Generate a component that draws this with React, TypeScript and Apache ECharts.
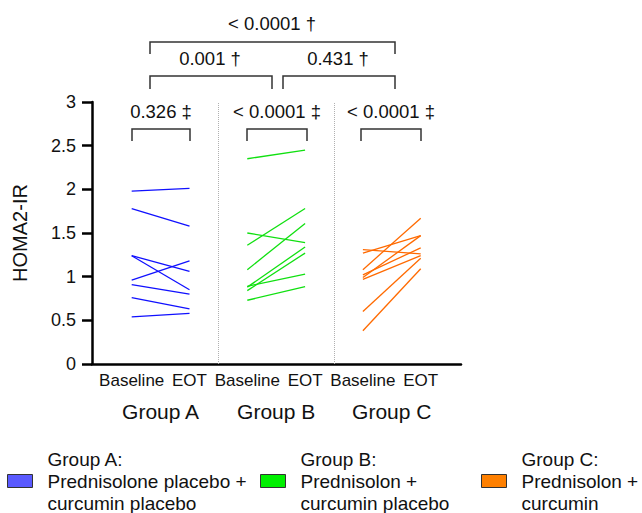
import React, { useEffect, useRef } from "react";
import * as echarts from "echarts";

const FONT = 'Arial, "Liberation Sans", Helvetica, sans-serif';

const timeLabels = ["Baseline", "EOT", "Baseline", "EOT", "Baseline", "EOT"];
const groupLabels = ["Group A", "Group B", "Group C"];
const yTicks = [0, 0.5, 1, 1.5, 2, 2.5, 3];
const groupSeparators = [1.5, 3.5];

const groupABaseline = [1.98, 1.78, 1.24, 1.24, 0.96, 0.91, 0.76, 0.54];
const groupAEot = [2.01, 1.58, 1.06, 0.85, 1.18, 0.8, 0.63, 0.58];
const groupBBaseline = [2.35, 1.36, 1.5, 1.08, 0.89, 0.88, 0.84, 0.73];
const groupBEot = [2.45, 1.78, 1.39, 1.61, 1.03, 1.34, 1.27, 0.885];
const groupCBaseline = [1.31, 1.27, 1.08, 1.02, 0.99, 0.97, 0.6, 0.38];
const groupCEot = [1.26, 1.47, 1.67, 1.33, 1.47, 1.24, 1.21, 1.09];

const legendNames = [
  "Group A:\nPrednisolone placebo +\ncurcumin placebo",
  "Group B:\nPrednisolon +\ncurcumin placebo",
  "Group C:\nPrednisolon +\ncurcumin",
];
const lineColors = ["#1010ff", "#10e010", "#ff6a00"];
const swatchColors = ["#5a5aff", "#00f000", "#ff8000"];

const withinP = ["0.326 \u2021", "< 0.0001 \u2021", "< 0.0001 \u2021"];
const betweenP = ["0.001 \u2020", "0.431 \u2020", "< 0.0001 \u2020"];

export default function App() {
  const ref = useRef<HTMLDivElement>(null);
  useEffect(() => {
    if (!ref.current) return;
    const chart = echarts.init(ref.current, undefined, { renderer: "svg" });
    const groups = [
      [groupABaseline, groupAEot],
      [groupBBaseline, groupBEot],
      [groupCBaseline, groupCEot],
    ];
    const series: any[] = [];
    groups.forEach((g, gi) => {
      g[0].forEach((b, i) => {
        series.push({
          type: "line",
          name: legendNames[gi],
          xAxisIndex: 0,
          yAxisIndex: 0,
          data: [
            [gi * 2, b],
            [gi * 2 + 1, g[1][i]],
          ],
          symbol: "none",
          showSymbol: false,
          silent: true,
          lineStyle: { color: lineColors[gi], width: 1.3 },
          itemStyle: { color: swatchColors[gi] },
        });
      });
    });
    series.push({
      type: "line",
      name: "separators",
      xAxisIndex: 3,
      yAxisIndex: 0,
      data: [],
      silent: true,
      markLine: {
        silent: true,
        symbol: ["none", "none"],
        label: { show: false },
        lineStyle: { color: "#b0b0b0", type: "dotted", width: 1 },
        data: groupSeparators.map((v) => ({ xAxis: v })),
      },
    });

    const P_FONT = 18.5;
    const txt = (t: string, x: number, y: number) => ({
      type: "text",
      x,
      y,
      style: {
        text: t,
        fill: "#111",
        font: `${P_FONT}px ${FONT}`,
        align: "center",
        verticalAlign: "middle",
      },
    });
    const bracket = (x1: number, x2: number, y: number, leg: number) => ({
      type: "polyline",
      shape: {
        points: [
          [x1, y + leg],
          [x1, y],
          [x2, y],
          [x2, y + leg],
        ],
      },
      style: { stroke: "#333", lineWidth: 1.5, fill: "none" },
    });

    const withinX = [
      [132, 190],
      [247, 307],
      [361, 421],
    ];
    const graphic: any[] = [];
    withinX.forEach((w, i) => {
      graphic.push(bracket(w[0], w[1], 129, 12));
      graphic.push(txt(withinP[i], (w[0] + w[1]) / 2, 111));
    });
    graphic.push(bracket(150, 272, 76, 13));
    graphic.push(txt(betweenP[0], 210, 58));
    graphic.push(bracket(283, 395, 76, 13));
    graphic.push(txt(betweenP[1], 338, 58));
    graphic.push(bracket(150, 395, 42, 12));
    graphic.push(txt(betweenP[2], 272, 23));

    const legendLefts = [7, 260, 481];
    const legend = legendNames.map((n, i) => ({
      left: legendLefts[i],
      top: 448,
      padding: 0,
      selectedMode: false,
      icon: "rect",
      itemWidth: 25,
      itemHeight: 13,
      data: [
        {
          name: n,
          itemStyle: { color: swatchColors[i], borderColor: "#333", borderWidth: 1 },
        },
      ],
      textStyle: {
        fontFamily: FONT,
        fontSize: 19,
        lineHeight: 22,
        color: "#111",
        padding: [0, 0, 0, 10],
      },
    }));

    chart.setOption({
      animation: false,
      backgroundColor: "#fff",
      grid: [
        { left: 102.8, right: 192.4, top: 102, bottom: 149 },
        { left: 92, right: 181, top: 102, bottom: 149 },
      ],
      xAxis: [
        {
          type: "category",
          gridIndex: 0,
          data: timeLabels,
          boundaryGap: true,
          axisLine: { show: false },
          axisTick: { show: false },
          axisLabel: {
            fontFamily: FONT,
            fontSize: 17,
            color: "#111",
            margin: 8,
            interval: 0,
          },
          splitLine: { show: false },
        },
        {
          type: "value",
          gridIndex: 1,
          min: 0,
          max: 1,
          axisLine: { show: true, onZero: false, lineStyle: { color: "#000", width: 2.5 } },
          axisTick: { show: false },
          axisLabel: { show: false },
          splitLine: { show: false },
        },
        {
          type: "category",
          gridIndex: 0,
          position: "bottom",
          offset: 29,
          data: groupLabels,
          axisLine: { show: false },
          axisTick: { show: false },
          axisLabel: {
            fontFamily: FONT,
            fontSize: 21,
            color: "#111",
            margin: 8,
            interval: 0,
          },
          splitLine: { show: false },
        },
        {
          type: "value",
          gridIndex: 0,
          min: -0.5,
          max: 5.5,
          show: false,
        },
      ],
      yAxis: [
        {
          type: "value",
          gridIndex: 0,
          min: yTicks[0],
          max: yTicks[yTicks.length - 1],
          interval: 0.5,
          offset: 10.8,
          name: "HOMA2-IR",
          nameLocation: "middle",
          nameRotate: 90,
          nameGap: 62,
          nameTextStyle: { fontFamily: FONT, fontSize: 20, color: "#111" },
          axisLine: { show: true, onZero: false, lineStyle: { color: "#000", width: 2.5 } },
          axisTick: { show: true, length: 10, lineStyle: { color: "#000", width: 2.5 } },
          axisLabel: {
            fontFamily: FONT,
            fontSize: 18,
            color: "#111",
            margin: 16,
          },
          splitLine: { show: false },
        },
        { type: "value", gridIndex: 1, min: 0, max: 1, show: false },
      ],
      legend,
      series,
      graphic,
    });
    return () => chart.dispose();
  }, []);
  return (
    <div
      ref={ref}
      style={{ position: "fixed", left: 0, top: 0, width: 642, height: 513 }}
    />
  );
}
